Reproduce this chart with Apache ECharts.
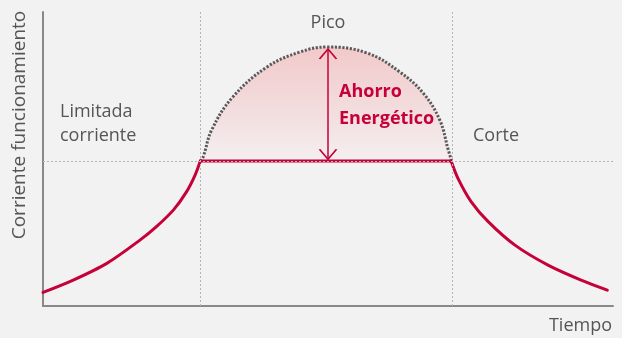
<!DOCTYPE html>
<html>
<head>
<meta charset="utf-8">
<script src="https://cdn.jsdelivr.net/npm/echarts@6/dist/echarts.min.js"></script>
<style>
  html, body { margin: 0; padding: 0; background: #f2f2f2; }
  #chart { width: 622px; height: 338px; }
</style>
</head>
<body>
<div id="chart"></div>
<script>
// curva de corriente: arranque, limitada, corte
const riseX = [0, 5.3, 11.2, 17.0, 19.9, 22.9, 25.2, 26.7, 27.6]
const riseY = [4.6, 8.8, 14.5, 22.4, 27.0, 32.7, 38.9, 44.6, 49.3]
const fallX = [71.6, 72.8, 75.1, 78.1, 82.8, 88.6, 94.4, 99.0]
const fallY = [49.3, 43.4, 35.5, 28.7, 20.7, 13.9, 8.8, 5.4]
// pico sin limitar (cupula punteada)
const domeX = [27.6, 28.1, 29.6, 33.3, 39.3, 45.1, 49.8, 56.8, 62.6, 66.7, 69.6, 71.1, 71.7]
const domeY = [49.3, 50.7, 59.9, 71.1, 81.3, 86.4, 88.1, 86.1, 79.6, 72.4, 63.3, 53.1, 49.3]
const limitLevel = 49.3
const guideX = [27.6, 71.8]
const arrowX = 50
const arrowY = [49.9, 87.4]

const red = '#c60039'
const grey = '#555'
const font = 'Open Sans'

let rise = riseX.map((x, i) => [x, riseY[i]])
let flat = [[riseX[riseX.length - 1], limitLevel], [fallX[0], limitLevel]]
let fall = fallX.map((x, i) => [x, fallY[i]])
let dome = domeX.map((x, i) => [x, domeY[i]])

function redLine(data, smooth) {
  return {
    type: 'line',
    data: data,
    smooth: smooth,
    showSymbol: false,
    lineStyle: { color: red, width: 3, cap: 'round', join: 'round' },
    z: 3
  }
}

function label(text, x, y, opts) {
  return {
    type: 'text', x: x, y: y, z: 100,
    style: Object.assign({ text: text, font: '18px "' + font + '"', fill: grey, verticalAlign: 'middle' }, opts || {})
  }
}

let myChart = echarts.init(document.getElementById('chart'))
myChart.setOption({
  backgroundColor: '#f2f2f2',
  animation: false,
  grid: { left: 43, right: 9, top: 12, bottom: 32 },
  xAxis: {
    type: 'value', min: 0, max: 100,
    axisLine: { show: true, lineStyle: { color: '#888', width: 2 } },
    axisTick: { show: false }, axisLabel: { show: false }, splitLine: { show: false }
  },
  yAxis: {
    type: 'value', min: 0, max: 100,
    axisLine: { show: true, lineStyle: { color: '#888', width: 2 } },
    axisTick: { show: false }, axisLabel: { show: false }, splitLine: { show: false }
  },
  series: [
    {
      type: 'line',
      data: dome,
      smooth: 0.4,
      showSymbol: false,
      lineStyle: { color: '#595959', width: 3, type: [2.2, 1.6] },
      areaStyle: {
        origin: limitLevel,
        color: new echarts.graphic.LinearGradient(0, 0, 0, 1, [
          { offset: 0, color: '#f1b8b8' },
          { offset: 0.6, color: '#f3d6d8' },
          { offset: 1, color: '#f6eeee' }
        ])
      },
      markLine: {
        silent: true,
        symbol: 'none',
        label: { show: false },
        lineStyle: { color: '#b5b5b5', width: 1, type: [2, 2] },
        data: guideX.map(v => ({ xAxis: v })).concat([{ yAxis: limitLevel }])
      },
      z: 1
    },
    redLine(rise, 0.3),
    redLine(flat, false),
    redLine(fall, 0.3),
    {
      type: 'line',
      data: [
        { value: [arrowX, arrowY[0]], symbolRotate: 180, symbolOffset: [0, -5] },
        { value: [arrowX, arrowY[1]], symbolRotate: 0, symbolOffset: [0, 5] }
      ],
      symbol: 'path://M0,10 L10,0 L20,10',
      symbolSize: [17, 10],
      showSymbol: true,
      itemStyle: { color: 'none', borderColor: red, borderWidth: 1.5 },
      lineStyle: { color: red, width: 1.5 },
      z: 4
    }
  ],
  graphic: [
    label('Pico', 328, 23, { align: 'center' }),
    label('Limitada', 60, 112),
    label('corriente', 60, 136),
    label('Corte', 473, 136),
    label('Tiempo', 612, 326, { align: 'right' }),
    label('Ahorro', 339, 92, { font: 'bold 18px "' + font + '"', fill: red }),
    label('Energético', 339, 119, { font: 'bold 18px "' + font + '"', fill: red }),
    {
      type: 'text', x: 20, y: 125, rotation: Math.PI / 2, z: 100,
      style: { text: 'Corriente funcionamiento', font: '19px "' + font + '"', fill: grey, align: 'center', verticalAlign: 'middle' }
    }
  ]
})
</script>
</body>
</html>
